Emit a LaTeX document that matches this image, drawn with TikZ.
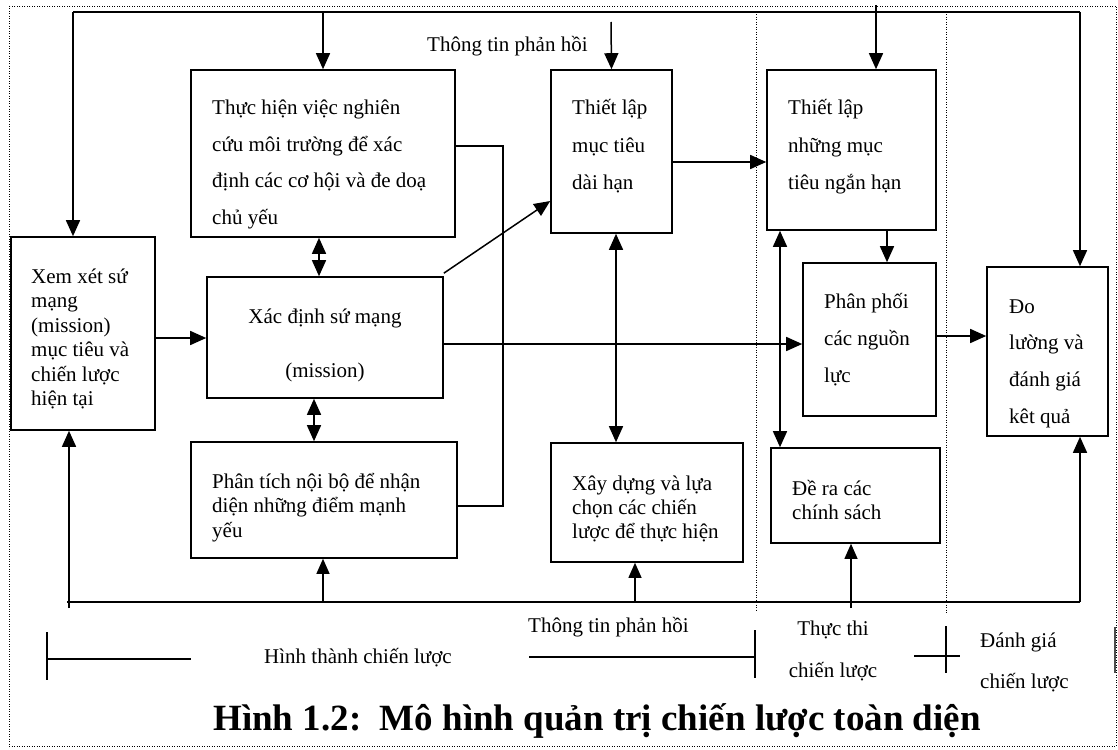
\documentclass[tikz,border=0pt]{standalone}
\usepackage{fontspec}
\setmainfont{Liberation Serif}
\usetikzlibrary{arrows.meta}
\newcommand\mlines[3][l]{\fontsize{21}{#2}\selectfont\begin{tabular}[t]{@{}#1@{}}#3\end{tabular}}
\begin{document}
\begin{tikzpicture}[x=1pt,y=-1pt,
 box/.style={draw, line width=1.6pt, inner sep=0pt},
 txt/.style={anchor=base west, inner sep=0pt, font=\fontsize{21}{25}\selectfont},
 ctxt/.style={anchor=base, inner sep=0pt, font=\fontsize{21}{25}\selectfont},
 arr/.style={line width=1.5pt, -{Triangle[length=16pt,width=14pt]}},
 darr/.style={line width=1.5pt, {Triangle[length=16pt,width=14pt]}-{Triangle[length=16pt,width=14pt]}},
 tarr/.style={line width=1.1pt, -{Triangle[length=15pt,width=13pt]}},
 link/.style={line width=1.5pt},
 fb/.style={line width=2.2pt},
 sep/.style={line width=0.8pt, dash pattern=on 1pt off 1.5pt},
 brk/.style={line width=1.5pt},
]
\useasboundingbox (0,0) rectangle (1118,749);
% outer dotted frame
\draw[sep] (9,6) rectangle (1116,746);

% boxes
\node[box, minimum width=144pt, minimum height=193pt] (xem)  at (83,333.5) {};
\node[box, minimum width=264pt, minimum height=167pt] (thuc) at (323,153.5) {};
\node[box, minimum width=236pt, minimum height=121pt] (xac)  at (325,337.5) {};
\node[box, minimum width=266pt, minimum height=116pt] (phan) at (324,500) {};
\node[box, minimum width=121pt, minimum height=163pt] (tlmt) at (611.5,151.5) {};
\node[box, minimum width=192pt, minimum height=119pt] (xay)  at (647,502.5) {};
\node[box, minimum width=169pt, minimum height=160pt] (tlnm) at (851.5,150) {};
\node[box, minimum width=133pt, minimum height=153pt] (pp)   at (869.5,339.5) {};
\node[box, minimum width=169pt, minimum height=95pt]  (dera) at (855.5,495.5) {};
\node[box, minimum width=121pt, minimum height=169pt] (do)   at (1047.5,351.5) {};

% box texts
\node[txt] (txem)  at (31,283)  {\mlines{24.5}{Xem xét sứ\\mạng\\(mission)\\mục tiêu và\\chiến lược\\hiện tại}};
\node[txt] (tthuc) at (212,115) {\mlines{36.5}{Thực hiện việc nghiên\\cứu môi trường để xác\\định các cơ hội và đe doạ\\chủ yếu}};
\node[ctxt] (txac1) at (325,323) {Xác định sứ mạng};
\node[ctxt] (txac2) at (325,377) {(mission)};
\node[txt] (tphan) at (212,488) {\mlines{24.5}{Phân tích nội bộ để nhận\\diện những điểm mạnh\\yếu}};
\node[txt] (ttlmt) at (572,115) {\mlines{37}{Thiết lập\\mục tiêu\\dài hạn}};
\node[txt] (txay)  at (572,490) {\mlines{24}{Xây dựng và lựa\\chọn các chiến\\lược để thực hiện}};
\node[txt] (ttlnm) at (788,115) {\mlines{37}{Thiết lập\\những mục\\tiêu ngắn hạn}};
\node[txt] (tpp)   at (824,308) {\mlines{37}{Phân phối\\các nguồn\\lực}};
\node[txt] (tdera) at (792,495) {\mlines{24}{Đề ra các\\chính sách}};
\node[txt] (tdo)   at (1009,313) {\mlines{36.7}{Đo\\lường và\\đánh giá\\kêt quả}};

% labels
\node[txt] (fbtop) at (427,52) {Thông tin phản hồi};
\node[txt] (fbbot) at (528,632) {Thông tin phản hồi};
\node[txt] (hinh)  at (264,663) {Hình thành chiến lược};
\node[ctxt] (thuc1) at (833,635) {Thực thi};
\node[ctxt] (thuc2) at (833,677) {chiến lược};
\node[txt] (dg1) at (980,647) {Đánh giá};
\node[txt] (dg2) at (980,688) {chiến lược};
\node[anchor=base, inner sep=0pt, font=\fontsize{37}{44}\selectfont\bfseries] (title) at (597,730) {Hình 1.2:\ \ Mô hình quản trị chiến lược toàn diện};

% phase separators
\draw[sep] (756,12) -- (756,612);
\draw[sep] (946,12) -- (946,613);

% top feedback line
\coordinate (tl) at (73,12);
\coordinate (tr) at (1080,12);
\draw[fb] (tl) -- (tr);
\draw[arr] (tl) -- (73,0 |- xem.north);
\draw[arr] (323,12) -- (thuc.north);
\coordinate (fbstart) at (611,22);
\draw[arr] (fbstart) -- (tlmt.north);
\coordinate (tlnmtop) at (876,5);
\draw[arr] (tlnmtop) -- (876,0 |- tlnm.north);
\draw[arr] (tr) -- (1080,0 |- do.north);

% internal connectors
\draw[darr] (319,0 |- thuc.south) -- (319,0 |- xac.north);
\draw[darr] (314,0 |- xac.south) -- (314,0 |- phan.north);
\draw[arr] (0,338 -| xem.east) -- (0,338 -| xac.west);
\draw[link] (0,146 -| thuc.east) -- (503,146) -- (503,506) -- (0,506 -| phan.east);
\draw[arr] (xac.north east) ++(0,-3) -- (0,201 -| tlmt.west);
\draw[arr] (0,344 -| xac.east) -- (0,344 -| pp.west);
\draw[arr] (0,162 -| tlmt.east) -- (0,162 -| tlnm.west);
\draw[darr] (616,0 |- tlmt.south) -- (616,0 |- xay.north);
\draw[darr] (780,0 |- tlnm.south) -- (780,0 |- dera.north);
\draw[arr] (887,0 |- tlnm.south) -- (887,0 |- pp.north);
\draw[arr] (0,336 -| pp.east) -- (0,336 -| do.west);

% bottom feedback line
\coordinate (bl) at (67,602);
\coordinate (br) at (1080,602);
\draw[fb] (bl) -- (br);
\coordinate (blv) at (69,608);
\draw[arr] (blv) -- (69,0 |- xem.south);
\draw[arr] (br) -- (1080,0 |- do.south);
\draw[tarr] (323,602) -- (323,0 |- phan.south);
\draw[tarr] (635,602) -- (635,0 |- xay.south);
\coordinate (derab) at (851,608);
\draw[tarr] (derab) -- (851,0 |- dera.south);

% bottom phase brackets
\draw[brk] (47,632) -- (47,680);
\draw[brk] (47,659) -- (191,659);
\draw[brk] (529,657) -- (755,657);
\draw[brk] (755,630) -- (755,678);
\draw[brk] (914,656) -- (960,656);
\draw[brk] (946,626) -- (946,673);
\draw[line width=2.5pt, black!70] (1115,627) -- (1115,673);
\end{tikzpicture}
\end{document}
